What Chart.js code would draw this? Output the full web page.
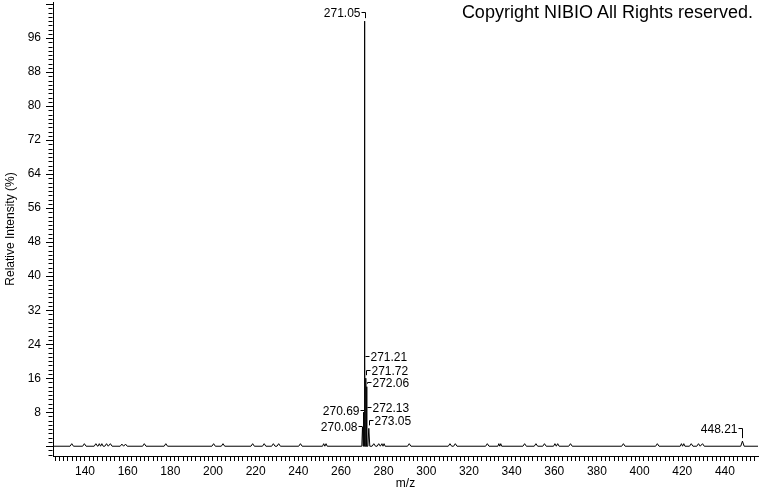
<!DOCTYPE html>
<html>
<head>
<meta charset="utf-8">
<script src="https://cdn.jsdelivr.net/npm/chart.js@4.4.1/dist/chart.umd.min.js"></script>
<style>
    html, body { margin: 0; padding: 0; background: #fff; }
    #wrap { position: relative; width: 760px; height: 492px; }
    #copyright {
        position: absolute;
        right: 7px;
        top: 2px;
        font: 18px "Liberation Sans", Arial, sans-serif;
        color: #000;
    }
</style>
</head>
<body>
<div id="wrap">
    <canvas id="spectrum" width="760" height="492"></canvas>
    <div id="copyright">Copyright NIBIO All Rights reserved.</div>
</div>
<script>
// axis ranges (m/z and relative intensity %)
const mzMin = 125.0;
const mzMax = 455.5;
const intMin = -2.3;
const intMax = 104.5;

// small noise peaks along the baseline
const noiseMz = [
    133.8, 139.7, 145.1, 146.7, 147.9, 150.1, 151.9, 157.3, 159.0, 167.8,
    177.9, 200.3, 204.7, 218.6, 224.0, 228.3, 230.8, 241.0, 251.9, 253.0,
    275.4, 277.7, 279.2, 280.2, 292.0, 311.1, 313.6, 328.6, 334.0, 334.9,
    346.1, 351.4, 355.4, 360.3, 361.6, 367.6, 392.4, 408.3, 419.6, 420.7,
    424.2, 427.6, 429.5
];
const noiseIntensity = [
    0.6, 0.6, 0.6, 0.6, 0.6, 0.6, 0.6, 0.5, 0.5, 0.6,
    0.6, 0.6, 0.6, 0.6, 0.6, 0.6, 0.6, 0.6, 0.6, 0.6,
    0.6, 0.6, 0.6, 0.6, 0.6, 0.6, 0.6, 0.6, 0.6, 0.6,
    0.6, 0.6, 0.6, 0.6, 0.6, 0.6, 0.6, 0.6, 0.6, 0.6,
    0.6, 0.6, 0.6
];

// labelled peaks
const peakMz = [270.08, 270.69, 271.05, 271.21, 271.72, 272.06, 272.13, 273.05, 448.21];
const peakIntensity = [4.5, 8, 100, 21, 16, 14, 9, 4.2, 1.2];
const peakLabelLevel = [4.8, 8.5, 102.2, 21.2, 18, 15, 9.3, 6.2, 4.2];
const peakLabelSide = ["left", "left", "left", "right", "right", "right", "right", "right", "left"];

const xMajorStep = 20;
const yMajorStep = 8;
const yLabelMax = 100;

function buildProfile() {
    const peaks = [];
    noiseMz.forEach((mz, i) => peaks.push({ mz: mz, h: noiseIntensity[i] }));
    peakMz.forEach((mz, i) => peaks.push({ mz: mz, h: peakIntensity[i] }));
    peaks.sort((a, b) => a.mz - b.mz);

    const points = [{ x: mzMin, y: 0 }];
    peaks.forEach((p, i) => {
        const prev = i > 0 ? p.mz - peaks[i - 1].mz : 10;
        const next = i < peaks.length - 1 ? peaks[i + 1].mz - p.mz : 10;
        const half = Math.min(0.8, prev / 2, next / 2);
        points.push({ x: p.mz - half, y: 0 });
        points.push({ x: p.mz, y: p.h });
        points.push({ x: p.mz + half, y: 0 });
    });
    points.push({ x: mzMax, y: 0 });
    return points;
}

function isYMajor(v) {
    return Math.round(v) % yMajorStep === 0;
}

const labelFont = '12px "Liberation Sans", Arial, sans-serif';

const peakLabelPlugin = {
    id: "peakLabels",
    afterDatasetsDraw(chart) {
        const ctx = chart.ctx;
        const xs = chart.scales.x;
        const ys = chart.scales.y;
        ctx.save();
        ctx.font = labelFont;
        ctx.fillStyle = "#000";
        ctx.strokeStyle = "#000";
        ctx.lineWidth = 1;
        ctx.textBaseline = "middle";

        peakMz.forEach((mz, i) => {
            const px = Math.round(xs.getPixelForValue(mz)) + 0.5;
            const ly = Math.round(ys.getPixelForValue(peakLabelLevel[i])) + 0.5;
            // connector stops a little above the peak top
            const py = Math.max(ly, ys.getPixelForValue(peakIntensity[i]) - 3);
            const text = mz.toFixed(2);
            const left = peakLabelSide[i] === "left";
            const x0 = left ? px - 4 : px + 4;

            ctx.beginPath();
            ctx.moveTo(x0, ly);
            ctx.lineTo(px, ly);
            ctx.lineTo(px, py);
            ctx.stroke();

            ctx.textAlign = left ? "right" : "left";
            ctx.fillText(text, left ? x0 - 1 : x0 + 1, ly + 1);
        });
        ctx.restore();
    }
};

// minor y ticks are shorter than the labelled ones
const minorTickPlugin = {
    id: "minorTicks",
    afterDraw(chart) {
        const ctx = chart.ctx;
        const ys = chart.scales.y;
        const axisX = Math.round(chart.chartArea.left) - 0.5;
        ctx.save();
        ctx.strokeStyle = "#000";
        ctx.lineWidth = 1;
        ys.ticks.forEach(t => {
            if (isYMajor(t.value)) return;
            const y = Math.round(ys.getPixelForValue(t.value)) + 0.5;
            ctx.beginPath();
            ctx.moveTo(axisX - 4, y);
            ctx.lineTo(axisX, y);
            ctx.stroke();
        });
        ctx.restore();
    }
};

const ctx = document.getElementById("spectrum").getContext("2d");

new Chart(ctx, {
    type: "line",
    data: {
        datasets: [{
            label: "spectrum",
            data: buildProfile(),
            borderColor: "#000",
            borderWidth: 1,
            pointRadius: 0,
            tension: 0,
            fill: false
        }]
    },
    options: {
        responsive: false,
        animation: false,
        layout: { padding: { top: 2, right: 2, left: 0, bottom: 0 } },
        plugins: {
            legend: { display: false },
            tooltip: { enabled: false }
        },
        scales: {
            x: {
                type: "linear",
                min: mzMin,
                max: mzMax,
                afterFit: scale => {
                    scale.height = 36;
                    scale.paddingLeft = 0;
                    scale.paddingRight = 0;
                },
                border: { display: true, color: "#000", width: 1 },
                grid: {
                    drawOnChartArea: false,
                    drawTicks: true,
                    tickLength: 5,
                    tickColor: "#000"
                },
                ticks: {
                    stepSize: 2,
                    includeBounds: false,
                    autoSkip: false,
                    maxRotation: 0,
                    maxTicksLimit: 400,
                    padding: 3,
                    color: "#000",
                    font: { family: '"Liberation Sans", Arial, sans-serif', size: 12 },
                    callback: v => (Math.round(v) % xMajorStep === 0 ? String(Math.round(v)) : "")
                },
                title: {
                    display: true,
                    text: "m/z",
                    color: "#000",
                    font: { family: '"Liberation Sans", Arial, sans-serif', size: 12 },
                    padding: { top: 0, bottom: 1 }
                }
            },
            y: {
                min: intMin,
                max: intMax,
                afterFit: scale => {
                    scale.width = 53;
                    scale.paddingTop = 0;
                    scale.paddingBottom = 0;
                },
                border: { display: true, color: "#000", width: 1 },
                grid: {
                    drawOnChartArea: false,
                    drawTicks: true,
                    tickLength: 7,
                    tickColor: c => (c.tick && isYMajor(c.tick.value) ? "#000" : "rgba(0,0,0,0)")
                },
                ticks: {
                    stepSize: 1,
                    includeBounds: false,
                    autoSkip: false,
                    maxTicksLimit: 400,
                    padding: 5,
                    color: "#000",
                    font: { family: '"Liberation Sans", Arial, sans-serif', size: 12 },
                    callback: v => (v > 0 && v < yLabelMax && isYMajor(v) ? String(Math.round(v)) : "")
                },
                title: {
                    display: true,
                    text: "Relative Intensity (%)",
                    color: "#000",
                    font: { family: '"Liberation Sans", Arial, sans-serif', size: 12 },
                    padding: { top: 3, bottom: 0 }
                }
            }
        }
    },
    plugins: [peakLabelPlugin, minorTickPlugin]
});
</script>
</body>
</html>
